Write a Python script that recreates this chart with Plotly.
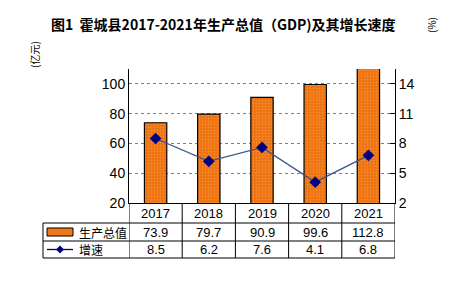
import plotly.graph_objects as go

years = ["2017", "2018", "2019", "2020", "2021"]
gdp = [73.9, 79.7, 90.9, 99.6, 112.8]
growth = [8.5, 6.2, 7.6, 4.1, 6.8]
gdp_labels = ["73.9", "79.7", "90.9", "99.6", "112.8"]
growth_labels = ["8.5", "6.2", "7.6", "4.1", "6.8"]
left_ticks = [20, 40, 60, 80, 100]
right_ticks = [2, 5, 8, 11, 14]
title_text = "图1  霍城县2017-2021年生产总值（GDP)及其增长速度"
row_names = ["生产总值", "增速"]

W, H = 449, 283
L, R, T, B = 129, 395, 69, 203
pw, ph = R - L, B - T

def px(x):
    return (x - L) / pw

def py(y):
    return (B - y) / ph

fig = go.Figure()
fig.add_trace(go.Bar(
    x=years, y=gdp, width=0.42, yaxis="y",
    marker=dict(color="#F07A18", line=dict(color="black", width=1.2),
                pattern=dict(shape=".", fgcolor="#F5B040", bgcolor="#EE6E10", size=3, solidity=0.35)),
    showlegend=False,
))
fig.add_trace(go.Scatter(
    x=years, y=growth, yaxis="y2", mode="lines+markers",
    line=dict(color="#3A5590", width=1.3),
    marker=dict(symbol="diamond", size=9, color="#000080"),
    showlegend=False,
))

shapes = []
ann = []
black = dict(color="black", width=1)
for yy in [223, 241, 258]:
    shapes.append(dict(type="line", xref="paper", yref="paper", x0=px(43), x1=1, y0=py(yy), y1=py(yy), line=black))
for i in range(len(years) + 1):
    shapes.append(dict(type="line", xref="x", yref="paper", x0=i - 0.5, x1=i - 0.5, y0=0, y1=py(258), line=black))
shapes.append(dict(type="line", xref="paper", yref="paper", x0=px(43), x1=px(43), y0=py(223), y1=py(258), line=black))
shapes.append(dict(type="rect", xref="paper", yref="paper", x0=px(47), x1=px(73), y0=py(236), y1=py(228),
                   fillcolor="#F07A18", line=dict(color="black", width=1)))
shapes.append(dict(type="line", xref="paper", yref="paper", x0=px(47), x1=px(73), y0=py(249.5), y1=py(249.5),
                   line=dict(color="#000080", width=1.3)))
cx, cy, d = 60, 249.5, 4
shapes.append(dict(type="path", xref="paper", yref="paper",
                   path=f"M {px(cx-d)} {py(cy)} L {px(cx)} {py(cy-d)} L {px(cx+d)} {py(cy)} L {px(cx)} {py(cy+d)} Z",
                   fillcolor="#000080", line=dict(color="#000080", width=0)))

def add_text(x, y, text, font, xref="paper", xanchor="center", angle=0):
    ann.append(dict(x=x, y=y, xref=xref, yref="paper", text=text, showarrow=False,
                    xanchor=xanchor, yanchor="middle", textangle=angle, font=font))

tf = dict(family="Liberation Sans, Arial, sans-serif", size=13, color="black")
for i in range(len(years)):
    add_text(i, py(213), years[i], tf, xref="x")
    add_text(i, py(232), gdp_labels[i], tf, xref="x")
    add_text(i, py(249.5), growth_labels[i], tf, xref="x")
cf = dict(family="Noto Sans CJK SC, sans-serif", size=12, color="black")
add_text(px(77), py(232), row_names[0], cf, xanchor="left")
add_text(px(77), py(249.5), row_names[1], cf, xanchor="left")
add_text(px(223), py(24), "<b>" + title_text + "</b>", dict(family="Noto Sans CJK SC, serif", size=14, color="black"))
add_text(px(35), py(55), "(亿元)", dict(family="Noto Sans CJK SC, sans-serif", size=10, color="black"), angle=-90)
add_text(px(432), py(25), "(%)", dict(family="Noto Sans CJK SC, sans-serif", size=10, color="black"), angle=-90)

fig.update_layout(
    width=W, height=H,
    margin=dict(l=L, r=W - R, t=T, b=H - B, pad=0),
    paper_bgcolor="white", plot_bgcolor="white",
    xaxis=dict(type="category", range=[-0.5, 4.5], showticklabels=False, ticks="",
               showline=True, linecolor="black", linewidth=1, showgrid=False, zeroline=False),
    yaxis=dict(range=[20, 110], tickvals=left_ticks, showline=True, linecolor="black", linewidth=1,
               showgrid=True, gridcolor="#808080", griddash="dot", gridwidth=1, zeroline=False,
               ticks="", tickfont=dict(family="Liberation Sans, Arial, sans-serif", size=14, color="black")),
    yaxis2=dict(range=[2, 15.5], tickvals=right_ticks, overlaying="y", side="right",
                showline=True, linecolor="black", linewidth=1, showgrid=False, zeroline=False,
                ticks="inside", ticklen=5, tickcolor="black",
                tickfont=dict(family="Liberation Sans, Arial, sans-serif", size=14, color="black")),
    shapes=shapes, annotations=ann,
)
fig.write_html("out.html")
